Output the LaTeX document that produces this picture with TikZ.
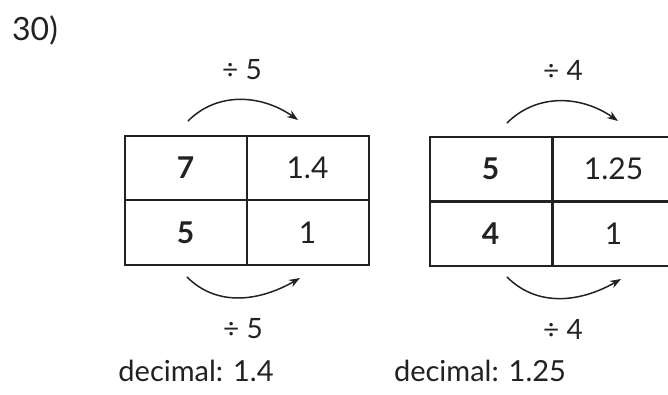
\documentclass[tikz,border=0pt]{standalone}
\usepackage{fontspec}
\setmainfont{Lato}
\usetikzlibrary{arrows.meta}
\definecolor{ink}{HTML}{222222}
\tikzset{
  cell/.style={draw=ink,line width=2pt,minimum width=122pt,minimum height=64.5pt,
    inner sep=0pt,outer sep=0pt,text=ink,font=\fontsize{30}{30}\selectfont},
  keycell/.style={cell,font=\fontsize{30}{30}\selectfont\bfseries},
  divarrow/.style={draw=ink,line width=1.5pt,-{Stealth[length=11pt,width=8pt]}},
  divlabel/.style={text=ink,font=\fontsize{28}{28}\selectfont},
}
\begin{document}
\begin{tikzpicture}[x=1pt,y=-1pt]
        \clip (0,0) rectangle (668,395);
        \node[text=ink,font=\fontsize{32}{32}\selectfont] (num) at (35,30) {30)};
        % first table
        \node[keycell] (a1) at (185.5,168) {7};
        \node[cell] (b1) at (307.5,168) {1.4};
        \node[keycell] (a2) at (185.5,232.5) {5};
        \node[cell] (b2) at (307.5,232.5) {1};
        \coordinate (as) at (188,121);
        \coordinate (ae) at (298,120);
        \coordinate (bs) at (187,277);
        \coordinate (be) at (300,278);
        \draw[divarrow] (as) to[out=45,in=145] (ae);
        \draw[divarrow] (bs) to[out=-45,in=-150] (be);
        \node[divlabel] (la) at (242,70) {÷ 5};
        \node[divlabel] (lb) at (243,329) {÷ 5};
        \node[text=ink,font=\fontsize{29}{29}\selectfont] (da) at (196,371) {decimal: 1.4};
        % second table
        \node[keycell] (c1) at (490.5,169) {5};
        \node[cell] (d1) at (613.5,169) {1.25};
        \node[keycell] (c2) at (490.5,234) {4};
        \node[cell] (d2) at (613.5,234) {1};
        \coordinate (cs) at (507,123);
        \coordinate (ce) at (618,121);
        \coordinate (ds) at (507,277);
        \coordinate (de) at (621,279);
        \draw[divarrow] (cs) to[out=45,in=145] (ce);
        \draw[divarrow] (ds) to[out=-45,in=-150] (de);
        \node[divlabel] (lc) at (563,70) {÷ 4};
        \node[divlabel] (ld) at (563,329) {÷ 4};
        \node[text=ink,font=\fontsize{29}{29}\selectfont] (dc) at (480,371) {decimal: 1.25};
\end{tikzpicture}
\end{document}
